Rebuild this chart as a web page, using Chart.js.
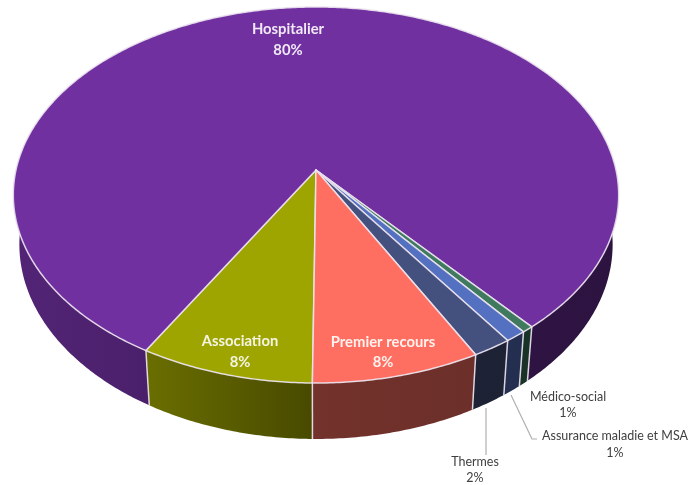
<!DOCTYPE html>
<html lang="fr">
<head>
    <meta charset="UTF-8">
    <title>Répartition</title>
    <script src="https://cdn.jsdelivr.net/npm/chart.js"></script>
    <style>
        body { margin: 0; background: #fff; }
        canvas { display: block; filter: blur(0.4px); }
    </style>
</head>
<body>
    <canvas id="pieChart" width="688" height="485"></canvas>
    <script>
        // clockwise from the bottom of the pie
        const categories = ['Association', 'Hospitalier', 'Médico-social', 'Assurance maladie et MSA', 'Thermes', 'Premier recours'];
        const shares = [8.2, 80.45, 0.55, 1.0, 1.85, 7.95];
        const shownPercent = ['8%', '80%', '1%', '1%', '2%', '8%'];
        const sliceColors = ['#9fa500', '#7030a0', '#3f7a5f', '#5470c0', '#44507e', '#ff6f61'];

        // perspective of the tilted disc
        const cx = 316, cy = 170, rx = 300, ry = 184.7, persp = -0.133, depth = 48.5;

        function top3d(a) {
            const u = Math.cos(a), v = Math.sin(a), d = 1 + persp * v;
            return [cx + rx * u / d, cy + ry * v / d];
        }
        function bottom3d(a) {
            const u = Math.cos(a), v = Math.sin(a), d = 1 + persp * v;
            return [cx + 0.98 * rx * u / d, cy + (ry * v + depth) / d];
        }
        function shade(hex, f) {
            const n = parseInt(hex.slice(1), 16);
            return 'rgb(' + Math.round((n >> 16) * f) + ',' + Math.round(((n >> 8) & 255) * f) + ',' + Math.round((n & 255) * f) + ')';
        }

        // splits a slice into the stretches that face the viewer
        function frontRuns(start, end) {
            const runs = [];
            let run = null;
            const steps = Math.ceil((end - start) / 0.01);
            for (let i = 0; i <= steps; i++) {
                const a = start + (end - start) * i / steps;
                if (Math.sin(a) > -0.06) {
                    if (!run) { run = []; runs.push(run); }
                    run.push(a);
                } else {
                    run = null;
                }
            }
            return runs;
        }

        const pie3d = {
            id: 'pie3d',
            beforeDatasetDraw(chart) {
                const ctx = chart.ctx;
                const arcs = chart.getDatasetMeta(0).data;
                const edge = 'rgba(236,228,240,0.9)';

                // side wall
                arcs.forEach((arc, i) => {
                    const grad = ctx.createLinearGradient(15, 0, 620, 0);
                    grad.addColorStop(0, shade(sliceColors[i], 0.74));
                    grad.addColorStop(0.21, shade(sliceColors[i], 0.67));
                    grad.addColorStop(0.49, shade(sliceColors[i], 0.45));
                    grad.addColorStop(1, shade(sliceColors[i], 0.4));
                    frontRuns(arc.startAngle, arc.endAngle).forEach(run => {
                        ctx.beginPath();
                        run.forEach((a, j) => {
                            const p = top3d(a);
                            j ? ctx.lineTo(p[0], p[1]) : ctx.moveTo(p[0], p[1]);
                        });
                        run.slice().reverse().forEach(a => {
                            const p = bottom3d(a);
                            ctx.lineTo(p[0], p[1]);
                        });
                        ctx.closePath();
                        ctx.fillStyle = grad;
                        ctx.fill();
                    });
                });
                arcs.forEach(arc => {
                    const t = top3d(arc.startAngle), b = bottom3d(arc.startAngle);
                    ctx.beginPath();
                    ctx.moveTo(t[0], t[1]);
                    ctx.lineTo(b[0], b[1]);
                    ctx.strokeStyle = edge;
                    ctx.lineWidth = 1.5;
                    ctx.stroke();
                });

                // top face
                arcs.forEach((arc, i) => {
                    ctx.beginPath();
                    ctx.moveTo(cx, cy);
                    const steps = Math.ceil((arc.endAngle - arc.startAngle) / 0.01);
                    for (let j = 0; j <= steps; j++) {
                        const p = top3d(arc.startAngle + (arc.endAngle - arc.startAngle) * j / steps);
                        ctx.lineTo(p[0], p[1]);
                    }
                    ctx.closePath();
                    ctx.fillStyle = sliceColors[i];
                    ctx.fill();
                    ctx.strokeStyle = edge;
                    ctx.lineWidth = 1.5;
                    ctx.lineJoin = 'round';
                    ctx.stroke();
                });
                return false; // the flat arcs are not drawn
            },
            afterDraw(chart) {
                const ctx = chart.ctx;
                ctx.strokeStyle = '#b0b0b0';
                ctx.lineWidth = 1.2;
                ctx.beginPath();
                ctx.moveTo(486, 408); ctx.lineTo(486, 455);
                ctx.moveTo(511, 395); ctx.lineTo(532, 439); ctx.lineTo(537, 439);
                ctx.stroke();

                ctx.textAlign = 'center';
                ctx.textBaseline = 'middle';
                const put = (i, x, y1, y2, font, color) => {
                    ctx.font = font;
                    ctx.fillStyle = color;
                    ctx.fillText(categories[i], x, y1);
                    ctx.fillText(shownPercent[i], x, y2);
                };
                const bold = 'bold 14.8px Lato', small = '12.5px Lato';
                put(1, 288, 29, 50, bold, '#f1e9f6');
                put(0, 240, 341, 362, bold, '#f4f4e4');
                put(5, 383, 342, 362, bold, '#fff2ee');
                put(2, 568, 397, 413, small, '#404040');
                put(3, 615, 436, 453, small, '#404040');
                put(4, 475, 462, 478, small, '#404040');
            }
        };

        new Chart(document.getElementById('pieChart'), {
            type: 'pie',
            data: {
                labels: categories,
                datasets: [{ data: shares, backgroundColor: sliceColors }]
            },
            options: {
                responsive: false,
                animation: false,
                rotation: 180.6,
                plugins: { legend: { display: false }, tooltip: { enabled: false } }
            },
            plugins: [pie3d]
        });
    </script>
</body>
</html>
